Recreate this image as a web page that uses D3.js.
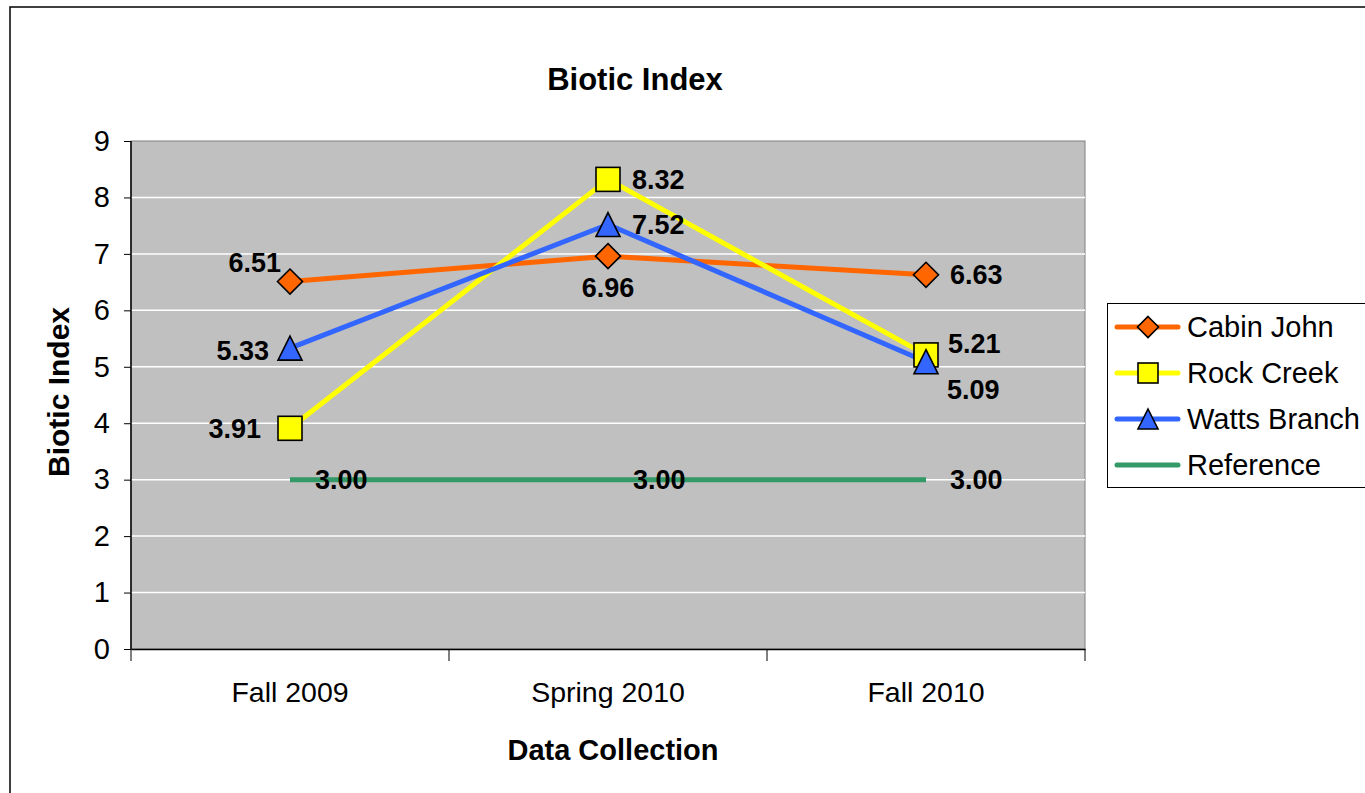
<!DOCTYPE html>
<html><head><meta charset="utf-8">
<script src="https://cdn.jsdelivr.net/npm/d3@7"></script>
<style>body{margin:0;background:#fff}svg{display:block;font-family:Arial,"Liberation Sans",sans-serif}</style>
</head><body>
<svg id="c" width="1365" height="793"></svg>
<script>
const categories = ["Fall 2009", "Spring 2010", "Fall 2010"];
const cabinJohn = [6.51, 6.96, 6.63];
const rockCreek = [3.91, 8.32, 5.21];
const wattsBranch = [5.33, 7.52, 5.09];
const reference = [3.00, 3.00, 3.00];
const yTicks = [0,1,2,3,4,5,6,7,8,9];

const series = [
  {name:"Cabin John", values:cabinJohn, color:"#FF6600", marker:"diamond",
   labels:[{dx:-9,dy:-19,anchor:"end"},{dx:0,dy:31,anchor:"middle"},{dx:24,dy:0,anchor:"start"}]},
  {name:"Rock Creek", values:rockCreek, color:"#FFFF00", marker:"square",
   labels:[{dx:-29,dy:0,anchor:"end"},{dx:24,dy:0,anchor:"start"},{dx:22,dy:-12,anchor:"start"}]},
  {name:"Watts Branch", values:wattsBranch, color:"#3366FF", marker:"triangle",
   labels:[{dx:-21,dy:2,anchor:"end"},{dx:24,dy:0,anchor:"start"},{dx:21,dy:28,anchor:"start"}]},
  {name:"Reference", values:reference, color:"#339966", marker:null,
   labels:[{dx:25,dy:0,anchor:"start"},{dx:25,dy:0,anchor:"start"},{dx:24,dy:0,anchor:"start"}]}
];

const svg = d3.select("#c");
const L = 131, R = 1085, T = 141, B = 649;

svg.append("rect").attr("x",10).attr("y",7).attr("width",1400).attr("height",820)
  .attr("fill","#fff").attr("stroke","#000").attr("stroke-width",1.5);

const x = d3.scaleBand().domain(categories).range([L,R]).padding(0);
const y = d3.scaleLinear().domain([0,9]).range([B,T]);
const cx = c => x(c) + x.bandwidth()/2;

svg.append("rect").attr("x",L).attr("y",T).attr("width",R-L).attr("height",B-T)
  .attr("fill","#C0C0C0").attr("stroke","#808080").attr("stroke-width",1);

svg.append("g").selectAll("line").data(yTicks.filter(d=>d>0 && d<9)).join("line")
  .attr("x1",L).attr("x2",R).attr("y1",d=>y(d)).attr("y2",d=>y(d))
  .attr("stroke","#fff").attr("stroke-width",1.5);

// y axis
const ya = svg.append("g").attr("transform",`translate(${L},0)`)
  .call(d3.axisLeft(y).tickValues(yTicks).tickSize(7).tickPadding(14).tickFormat(d3.format("d")));
ya.select(".domain").attr("stroke","#000").attr("stroke-width",1.5).attr("d",`M0,${T}V${B}`);
ya.selectAll(".tick line").attr("stroke","#000");
ya.selectAll(".tick text").attr("font-size",29).attr("fill","#000").attr("font-family","Arial, 'Liberation Sans', sans-serif");

// x axis
const xa = svg.append("g").attr("transform",`translate(0,${B})`)
  .call(d3.axisBottom(x).tickSize(0).tickPadding(33));
xa.select(".domain").attr("stroke","#000").attr("stroke-width",1.5);
xa.selectAll(".tick text").attr("font-size",28.5).attr("fill","#000").attr("font-family","Arial, 'Liberation Sans', sans-serif");
const bounds = categories.map(c=>x(c)).concat([R]);
svg.append("g").selectAll("line").data(bounds).join("line")
  .attr("x1",d=>d).attr("x2",d=>d).attr("y1",B).attr("y2",B+12)
  .attr("stroke","#000").attr("stroke-width",1);

// titles
svg.append("text").attr("x",635).attr("y",90).attr("text-anchor","middle")
  .attr("font-size",31).attr("font-weight","bold").text("Biotic Index");
svg.append("text").attr("x",613).attr("y",760).attr("text-anchor","middle")
  .attr("font-size",29).attr("font-weight","bold").text("Data Collection");
svg.append("text").attr("transform","translate(69,392) rotate(-90)").attr("text-anchor","middle")
  .attr("font-size",30).attr("font-weight","bold").text("Biotic Index");

const line = d3.line().x((d,i)=>cx(categories[i])).y(d=>y(d));

function marker(g, type, s, color){
  const h = s/2;
  if(type==="diamond") g.append("path").attr("d",`M0,${-h}L${h},0L0,${h}L${-h},0Z`);
  else if(type==="square") g.append("rect").attr("x",-h).attr("y",-h).attr("width",s).attr("height",s);
  else if(type==="triangle") g.append("path").attr("d",`M0,${-h}L${h},${h}L${-h},${h}Z`);
  g.selectAll("path,rect").attr("fill",color).attr("stroke","#000").attr("stroke-width",1.6);
}

const order = [3,0,1,2];
order.forEach(k=>{
  const s = series[k];
  svg.append("path").datum(s.values).attr("d",line).attr("fill","none")
    .attr("stroke",s.color).attr("stroke-width",5).attr("stroke-linejoin","round");
});
order.forEach(k=>{
  const s = series[k];
  if(!s.marker) return;
  s.values.forEach((v,i)=>{
    const g = svg.append("g").attr("transform",`translate(${cx(categories[i])},${y(v)})`);
    marker(g, s.marker, s.marker==="diamond"?25:24, s.color);
  });
});
series.forEach(s=>{
  s.values.forEach((v,i)=>{
    const lb = s.labels[i];
    svg.append("text").attr("x",cx(categories[i])+lb.dx).attr("y",y(v)+lb.dy)
      .attr("dy","0.36em").attr("text-anchor",lb.anchor)
      .attr("font-size",27).attr("font-weight","bold").text(v.toFixed(2));
  });
});

// legend
const lg = svg.append("g");
lg.append("rect").attr("x",1107.5).attr("y",303.5).attr("width",300).attr("height",184)
  .attr("fill","#fff").attr("stroke","#000").attr("stroke-width",1);
series.forEach((s,i)=>{
  const yy = 327 + i*46;
  lg.append("line").attr("x1",1117).attr("x2",1178).attr("y1",yy).attr("y2",yy)
    .attr("stroke",s.color).attr("stroke-width",5).attr("stroke-linecap","round");
  if(s.marker){
    const g = lg.append("g").attr("transform",`translate(1148,${yy})`);
    marker(g, s.marker, s.marker==="diamond"?21:20, s.color);
  }
  lg.append("text").attr("x",1187).attr("y",yy).attr("dy","0.36em")
    .attr("font-size",29).text(s.name);
});
</script>
</body></html>
